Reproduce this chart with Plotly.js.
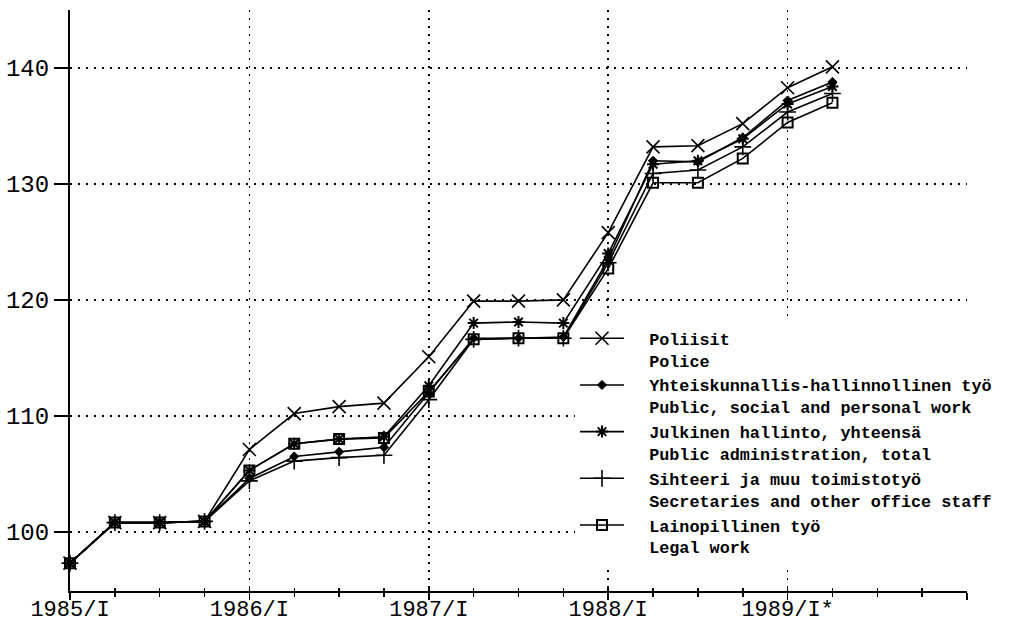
<!DOCTYPE html>
<html>
<head>
<meta charset="utf-8">
<script src="https://cdn.plot.ly/plotly-3.0.1.min.js"></script>
<style>html,body{margin:0;padding:0;background:#fff;}#chart{width:1009px;height:625px;}</style>
</head>
<body>
<div id="chart"></div>
<script>
// Quarters (x categories), 1985/I .. 1989/II
const quarters = ['1985/I','1985/II','1985/III','1985/IV','1986/I','1986/II','1986/III','1986/IV',
  '1987/I','1987/II','1987/III','1987/IV','1988/I','1988/II','1988/III','1988/IV','1989/I','1989/II'];

// Series values (index, 1985/I reference)
const poliisit = [97.3,100.8,100.8,100.9,107.1,110.2,110.8,111.1,115.1,119.9,119.9,120.0,125.8,133.2,133.3,135.2,138.3,140.1];
const yhteiskunnallis = [97.3,100.8,100.8,100.9,104.6,106.5,106.9,107.3,112.0,116.7,116.7,116.8,123.5,132.0,131.9,134.0,137.2,138.8];
const julkinen = [97.3,100.8,100.8,100.9,105.3,107.6,108.0,108.2,112.6,118.0,118.1,118.0,124.0,131.7,132.0,133.9,136.9,138.4];
const sihteeri = [97.3,100.8,100.8,100.9,104.4,106.1,106.4,106.6,111.4,116.6,116.7,116.7,123.2,130.9,131.2,133.2,136.2,137.8];
const lainopillinen = [97.3,100.8,100.8,100.9,105.3,107.6,108.0,108.1,112.1,116.6,116.7,116.7,122.7,130.1,130.1,132.2,135.3,137.0];

// Axis tick labels
const xTickLabels = ['1985/I','1986/I','1987/I','1988/I','1989/I*',''];
const yTickValues = [100,110,120,130,140];

const seriesNames = [
  'Poliisit<br>Police',
  'Yhteiskunnallis-hallinnollinen työ<br>Public, social and personal work',
  'Julkinen hallinto, yhteensä<br>Public administration, total',
  'Sihteeri ja muu toimistotyö<br>Secretaries and other office staff',
  'Lainopillinen työ<br>Legal work'
];

const xIdx = quarters.map((q, i) => i);
const xTickVals = xTickLabels.map((t, i) => i * 4);

const nb = '\u00a0\u00a0';
function pad(name){ return name.split('<br>').map(s => nb + s).join('<br>'); }

function mk(y, name, symbol, size, lw, order){
  return {
    x: xIdx, y: y, name: pad(name), type: 'scatter', mode: 'lines+markers',
    line: {color: '#000', width: 1.6},
    marker: {symbol: symbol, size: size, color: '#000', line: {color: '#000', width: lw}},
    cliponaxis: false, legendrank: order
  };
}

const traces = [
  mk(lainopillinen, seriesNames[4], 'square-open', 10, 2, 5),
  mk(sihteeri, seriesNames[3], 'cross-thin-open', 12, 1.6, 4),
  mk(julkinen, seriesNames[2], 'asterisk-open', 10, 2, 3),
  mk(yhteiskunnallis, seriesNames[1], 'diamond', 7, 1, 2),
  mk(poliisit, seriesNames[0], 'x-thin-open', 13, 1.6, 1)
];

// helper trace on a second x axis, only to draw the upward half of the crossing ticks
traces.push({x: [0], y: [100], xaxis: 'x2', yaxis: 'y', showlegend: false, hoverinfo: 'skip',
  mode: 'markers', marker: {opacity: 0, size: 1}});

const tickFont = {family: 'Liberation Mono, Courier New, monospace', size: 24, color: '#000'};
const xTickFont = {family: 'Liberation Mono, Courier New, monospace', size: 22, color: '#000'};

const layout = {
  width: 1009, height: 625,
  margin: {l: 70, r: 42, t: 10, b: 34},
  paper_bgcolor: '#fff', plot_bgcolor: '#fff',
  showlegend: true,
  legend: {
    x: 0.563, y: 0.465, xanchor: 'left', yanchor: 'top',
    bgcolor: '#fff', borderwidth: 0, valign: 'top',
    traceorder: 'normal', itemwidth: 44, tracegroupgap: 0,
    font: {family: 'Liberation Mono, Courier New, monospace', size: 16.8, color: '#000', weight: 'bold'}
  },
  xaxis: {
    range: [0, 20], showline: true, linecolor: '#000', linewidth: 2,
    tickmode: 'array', tickvals: xTickVals, ticktext: xTickLabels,
    ticks: 'outside', ticklen: 7, tickwidth: 1.6, tickcolor: '#000',
    minor: {dtick: 1, ticks: 'outside', ticklen: 4, tickwidth: 1.5, tickcolor: '#000', showgrid: false},
    showgrid: true, gridcolor: '#000', gridwidth: 1.6, griddash: '2px,6px',
    zeroline: false, tickfont: xTickFont, ticklabelstandoff: -10, fixedrange: true
  },
  xaxis2: {
    overlaying: 'x', anchor: 'y', side: 'bottom', range: [0, 20],
    tickmode: 'array', tickvals: xTickVals, ticktext: xTickVals.map(() => ''),
    ticks: 'inside', ticklen: 7, tickwidth: 1.6, tickcolor: '#000',
    minor: {dtick: 1, ticks: 'inside', ticklen: 3, tickwidth: 1.5, tickcolor: '#000', showgrid: false},
    showgrid: false, zeroline: false, showline: false, showticklabels: false
  },
  yaxis: {
    range: [94.9, 145], showline: true, linecolor: '#000', linewidth: 2,
    tickmode: 'array', tickvals: yTickValues,
    ticks: 'outside', ticklen: 14, tickwidth: 2, tickcolor: '#000',
    showgrid: true, gridcolor: '#000', gridwidth: 1.6, griddash: '2px,6px',
    zeroline: false, tickfont: tickFont, fixedrange: true
  }
};

Plotly.newPlot('chart', traces, layout, {displayModeBar: false, staticPlot: true});
</script>
</body>
</html>
